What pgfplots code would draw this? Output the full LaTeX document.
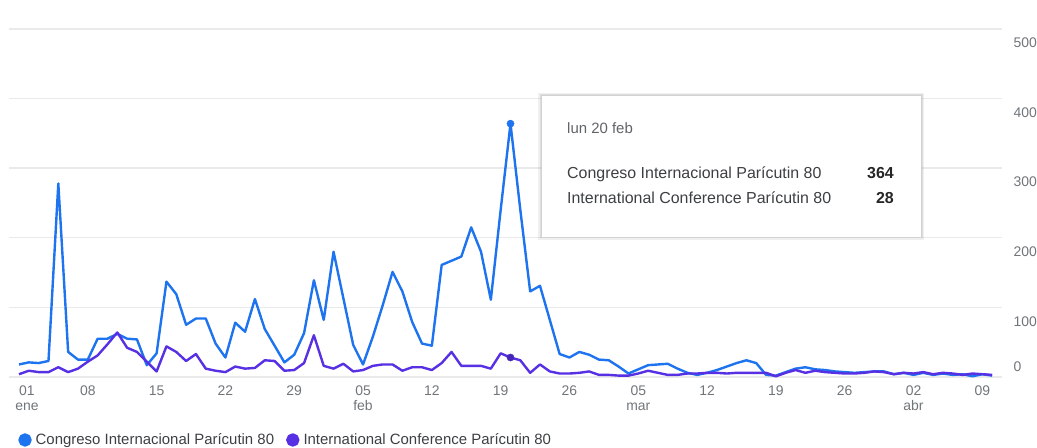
\documentclass[border=0pt]{standalone}
\usepackage{fontspec}
\setmainfont{Liberation Sans}
\usepackage{pgfplots}
\usepackage{pgfplotstable}
\pgfplotsset{compat=1.18}
\definecolor{cblue}{RGB}{30,115,238}
\definecolor{cpurple}{RGB}{88,48,228}
\definecolor{tickgray}{RGB}{112,117,122}
\definecolor{txtgray}{RGB}{60,64,67}
\definecolor{gridgray}{RGB}{234,234,234}

\pgfplotstableread{
d a b
0 18 4
1 21 9
2 20 7
3 23 7
4 278 14
5 36 7
6 25 12
7 25 22
8 55 31
9 55 47
10 62 64
11 55 42
12 54 36
13 17 22
14 34 8
15 137 44
16 119 36
17 75 23
18 84 33
19 84 12
20 48 9
21 28 7
22 78 15
23 65 12
24 112 13
25 69 24
26 45 23
27 21 9
28 32 10
29 63 20
30 139 60
31 82 16
32 180 12
33 113 19
34 46 8
35 18 10
36 58 16
37 103 18
38 151 18
39 123 9
40 79 14
41 48 14
42 45 10
43 161 20
44 167 36
45 173 16
46 215 16
47 180 16
48 111 12
49 240 34
50 364 28
51 240 24
52 123 6
53 131 18
54 82 8
55 33 5
56 28 5
57 36 6
58 32 8
59 25 3
60 24 3
61 15 2
62 5 2
63 11 5
64 17 9
65 18 6
66 19 3
67 12 3
68 6 5
69 3 5
70 6 6
71 10 6
72 15 5
73 20 6
74 24 6
75 20 6
76 3 6
77 2 1
78 7 6
79 12 10
80 14 6
81 11 9
82 10 7
83 8 6
84 7 5
85 6 5
86 7 6
87 8 8
88 8 7
89 4 4
90 6 6
91 3 5
92 6 7
93 3 4
94 5 6
95 3 5
96 4 3
97 1 5
98 4 4
99 2 3
}\data

\begin{document}
\begin{tikzpicture}[x=1bp,y=1bp]
\useasboundingbox (0,0) rectangle (1037,448);
\begin{axis}[
  at={(9.17bp,71bp)}, anchor=south west,
  scale only axis, width=992.8bp, height=348bp,
  xmin=-1, xmax=100, ymin=0, ymax=500,
  axis line style={draw=none},
  tick style={draw=none},
  ymajorgrids, grid style={gridgray, line width=1.4bp},
  xtick={0,7,...,98},
  xticklabels={{\hspace*{16bp}01\\\hspace*{16bp}ene},08,15,22,29,05\\feb,12,19,26,05\\mar,12,19,26,02\\abr,09},
  xticklabel style={align=center, font=\fontsize{14}{15.5}\selectfont, text=tickgray, yshift=-5bp},
  ytick={0,100,200,300,400,500},
  yticklabels={{\smash{\raisebox{19bp}{0}}},100,200,300,400,500},
  yticklabel pos=right,
  yticklabel style={anchor=west, xshift=8bp, yshift=-14bp, font=\fontsize{14}{15}\selectfont, text=tickgray},
  legend style={at={(axis description cs:0.006,-0.181)}, anchor=west, draw=none, fill=none,
    font=\fontsize{15}{16}\selectfont, text=txtgray, legend columns=2,
    /tikz/every even column/.append style={column sep=10bp}},
  legend image code/.code={\fill (0bp,0bp) circle (5.5bp); \path (7.5bp,0bp);},
  legend cell align=left,
  clip=false,
]
\addplot[color=cblue, line width=2.4bp, line join=round, no marks] table[x=d, y=a] {\data};
\addlegendentry{Congreso Internacional Parícutin 80}
\addplot[color=cpurple, line width=2.4bp, line join=round, no marks] table[x=d, y=b] {\data};
\addlegendentry{International Conference Parícutin 80}
\addplot[color=cblue, only marks, mark=*, mark size=3.6bp, forget plot] coordinates {(50,364)};
\addplot[color=cpurple!80!black, only marks, mark=*, mark size=3.6bp, forget plot] coordinates {(50,28)};
\end{axis}
% tooltip
\fill[black, opacity=0.06] (538,208) rectangle (924,355);
\fill[black, opacity=0.08] (539.5,209.5) rectangle (922.5,354);
\fill[white] (541,211) rectangle (921,353);
\draw[gray!35, line width=0.6bp] (541,211) rectangle (921,353);
\node[anchor=base west, inner sep=0, text={rgb,255:red,95;green,99;blue,104}, font=\fontsize{15}{16}\selectfont] at (567,314) {lun 20 feb};
\node[anchor=base west, inner sep=0, text=txtgray, font=\fontsize{16}{17}\selectfont] at (567,269) {Congreso Internacional Parícutin 80};
\node[anchor=base east, inner sep=0, text=black!85, font=\fontsize{16}{17}\selectfont\bfseries] at (894,269) {364};
\node[anchor=base west, inner sep=0, text=txtgray, font=\fontsize{16}{17}\selectfont] at (567,244) {International Conference Parícutin 80};
\node[anchor=base east, inner sep=0, text=black!85, font=\fontsize{16}{17}\selectfont\bfseries] at (894,244) {28};
\end{tikzpicture}
\end{document}
